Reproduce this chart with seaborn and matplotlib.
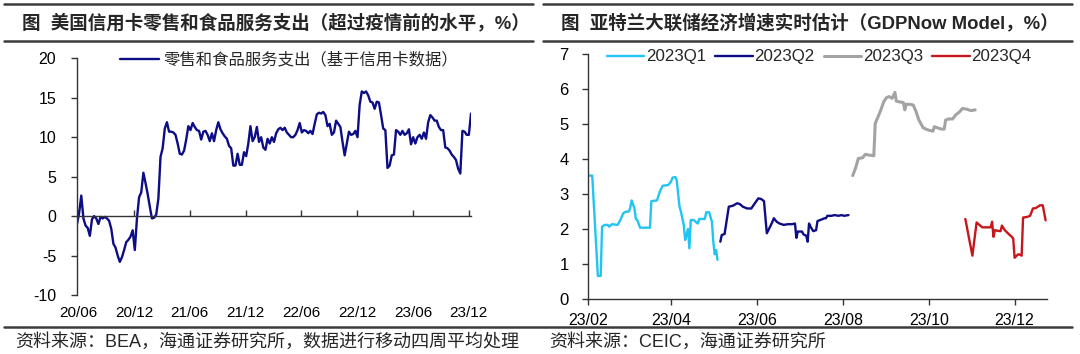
import pandas as pd
import matplotlib
matplotlib.use("Agg")
import matplotlib.pyplot as plt
import matplotlib.dates as mdates
from matplotlib.lines import Line2D
import seaborn as sns

# weekly retail & food services card spending vs pre-pandemic level (%)
retail_start = "2020-05-29"
retail = [
    -1.0, 0.4, 2.6, -0.3, -1.2, -1.5, -2.5, -0.4, 0.0, -0.3,
    -1.0, -0.1, -0.3, -0.1, -0.3, -0.6, -1.6, -3.5, -4.0, -5.0,
    -5.8, -5.2, -4.3, -3.3, -3.0, -2.6, -1.8, -4.3, -0.3, 2.4,
    3.0, 5.5, 4.2, 2.8, 1.2, -0.3, -0.2, 0.2, 2.2, 7.5,
    8.6, 11.1, 11.9, 10.7, 10.7, 10.6, 10.3, 9.2, 7.9, 7.8,
    8.3, 9.7, 11.4, 10.9, 11.8, 11.3, 10.9, 10.8, 9.7, 10.7,
    10.8, 10.3, 9.5, 10.5, 9.5, 10.9, 11.9, 11.0, 10.5, 10.1,
    9.8, 8.9, 8.6, 6.4, 6.4, 7.9, 6.5, 6.5, 8.1, 7.6,
    9.2, 11.4, 9.5, 10.0, 11.3, 9.4, 10.0, 8.7, 8.4, 9.8,
    9.2, 10.0, 9.4, 10.5, 11.0, 11.2, 10.9, 11.2, 10.6, 10.3,
    10.0, 10.0, 10.3, 10.9, 11.8, 10.6, 10.9, 10.8, 10.5, 10.8,
    10.4, 11.7, 12.9, 13.1, 13.0, 13.2, 12.8, 11.4, 11.7, 10.3,
    10.6, 12.1, 11.7, 11.3, 9.4, 7.7, 9.2, 10.7, 10.3, 10.4,
    10.8, 10.0, 14.1, 15.8, 15.6, 15.8, 15.3, 14.5, 14.4, 13.6,
    14.5, 14.4, 12.8, 11.1, 10.9, 6.1, 6.4, 7.7, 7.8, 10.9,
    10.7, 10.3, 10.8, 10.3, 10.5, 11.0, 9.1, 10.0, 9.2, 10.0,
    10.3, 9.8, 10.6, 9.8, 11.9, 12.8, 12.5, 12.1, 12.1, 11.3,
    10.9, 10.9, 8.7, 8.6, 8.3, 7.8, 7.5, 7.1, 6.0, 5.4,
    10.8, 10.7, 10.3, 10.3, 13.0,
]

# GDPNow nowcasts by quarter
q1_dates = ["02-01", "02-04", "02-08", "02-10", "02-11", "02-13", "02-15", "02-16", "02-18", "02-22",
            "02-24", "02-26", "02-28", "03-02", "03-03", "03-04", "03-06", "03-07", "03-08", "03-10",
            "03-17", "03-18", "03-22", "03-24", "03-26", "03-30", "04-01", "04-02", "04-04", "04-05",
            "04-07", "04-08", "04-10", "04-11", "04-12", "04-13", "04-14", "04-15", "04-17", "04-19",
            "04-20", "04-21", "04-25", "04-26", "04-28", "04-30", "05-01", "05-02", "05-03", "05-04"]
q1_vals = [3.53, 3.53, 0.66, 0.66, 2.07, 2.12, 2.12, 2.07, 2.14, 2.12,
           2.26, 2.45, 2.5, 2.5, 2.61, 2.82, 2.59, 2.29, 2.26, 2.04,
           2.04, 2.8, 2.82, 3.07, 3.24, 3.26, 3.36, 3.47, 3.49, 3.4,
           2.64, 2.5, 2.12, 1.69, 1.83, 2.0, 1.45, 2.26, 2.26, 2.19,
           2.16, 2.29, 2.29, 2.48, 2.48, 2.21, 1.64, 1.28, 1.4, 1.12]

q2_dates = ["05-06", "05-07", "05-09", "05-12", "05-15", "05-18", "05-20", "05-22", "05-25", "05-28",
            "05-30", "06-02", "06-04", "06-06", "06-08", "06-10", "06-12", "06-13", "06-15", "06-17",
            "06-20", "06-23", "06-26", "06-28", "06-29", "06-30", "07-03", "07-04", "07-06", "07-07",
            "07-08", "07-09", "07-11", "07-13", "07-14", "07-16", "07-19", "07-20", "07-21", "07-24",
            "07-26", "07-29", "07-31", "08-02", "08-05"]
q2_vals = [1.64, 1.83, 1.86, 2.64, 2.67, 2.74, 2.71, 2.64, 2.59, 2.59,
           2.71, 2.88, 2.86, 2.80, 1.88, 2.04, 2.21, 2.31, 2.21, 2.16,
           2.12, 2.14, 2.14, 2.16, 1.75, 1.93, 1.93, 1.85, 1.81, 1.64,
           2.16, 2.07, 1.94, 1.97, 2.23, 2.26, 2.31, 2.31, 2.38, 2.38,
           2.40, 2.38, 2.40, 2.38, 2.40]

q3_dates = ["08-08", "08-10", "08-12", "08-15", "08-17", "08-19", "08-23", "08-24", "08-26", "08-28",
            "08-30", "09-01", "09-03", "09-05", "09-07", "09-08", "09-10", "09-13", "09-14", "09-15",
            "09-17", "09-20", "09-22", "09-24", "09-27", "09-29", "10-01", "10-04", "10-05", "10-07",
            "10-10", "10-12", "10-13", "10-15", "10-18", "10-20", "10-23", "10-25", "10-28", "10-31",
            "11-03"]
q3_vals = [3.53, 3.74, 4.02, 4.04, 4.14, 4.12, 4.10, 5.02, 5.21, 5.41,
           5.64, 5.76, 5.79, 5.74, 5.91, 5.66, 5.64, 5.62, 5.41, 5.57,
           5.57, 5.55, 5.36, 5.12, 4.90, 4.86, 4.83, 4.80, 4.93, 4.90,
           4.86, 4.86, 5.12, 5.15, 5.15, 5.26, 5.36, 5.45, 5.43, 5.39,
           5.41]

q4_dates = ["10-27", "11-01", "11-04", "11-06", "11-08", "11-14", "11-15", "11-16", "11-17", "11-19",
            "11-21", "11-22", "11-24", "11-27", "11-29", "11-30", "12-01", "12-03", "12-04", "12-06",
            "12-07", "12-10", "12-12", "12-14", "12-16", "12-19", "12-21", "12-23"]
q4_vals = [2.29, 1.24, 2.19, 2.12, 2.05, 2.05, 2.21, 1.78, 1.97, 1.95,
           1.94, 2.10, 1.97, 1.85, 1.78, 1.73, 1.18, 1.26, 1.28, 1.24,
           2.33, 2.35, 2.38, 2.59, 2.60, 2.68, 2.68, 2.25]

quarters = ["2023Q1", "2023Q2", "2023Q3", "2023Q4"]
q_colors = ["#22c4f2", "#0d0d85", "#a3a3a3", "#c8161d"]
q_widths = [1.7, 1.7, 2.2, 1.7]

sns.set_style("ticks")
plt.rcParams["font.family"] = ["Liberation Sans", "Noto Sans CJK SC", "DejaVu Sans"]
plt.rcParams["axes.unicode_minus"] = False

W, H = 1080, 354
fig = plt.figure(figsize=(W / 100, H / 100), dpi=100)

# ---------- left panel ----------
ax1 = fig.add_axes([77 / W, 1 - 295 / H, (471 - 77) / W, (295 - 58.3) / H])
df1 = pd.DataFrame({
    "date": pd.date_range(retail_start, periods=len(retail), freq="7D"),
    "value": retail,
})
sns.lineplot(data=df1, x="date", y="value", ax=ax1, color="#0d0d85", lw=1.7,
             label="零售和食品服务支出（基于信用卡数据）")
ax1.set_xlim(df1["date"].iloc[0], df1["date"].iloc[-1])
ax1.set_ylim(-10, 20)
ax1.set_yticks(range(-10, 21, 5))
ax1.xaxis.set_major_locator(mdates.MonthLocator(bymonth=[6, 12]))
ax1.xaxis.set_major_formatter(mdates.DateFormatter("%y/%m"))
ax1.spines["bottom"].set_position(("data", 0))
ax1.tick_params(axis="x", direction="in", length=4, pad=65, labelsize=11)
ax1.tick_params(axis="y", direction="out", length=4, pad=11, labelsize=11.5)
ax1.legend(loc="center left", bbox_to_anchor=(120 / W, 1 - 60 / H),
           bbox_transform=fig.transFigure, frameon=False, handlelength=2.4,
           handletextpad=0.25, borderpad=0, borderaxespad=0,
           prop={"family": ["Noto Sans CJK SC"], "size": 11.8})

# ---------- right panel ----------
ax2 = fig.add_axes([588 / W, 1 - 299 / H, (1047 - 588) / W, (299 - 54.3) / H])
series = [(q1_dates, q1_vals), (q2_dates, q2_vals), (q3_dates, q3_vals), (q4_dates, q4_vals)]
for name, (d, v), c, lw in zip(quarters, series, q_colors, q_widths):
    dfq = pd.DataFrame({"date": pd.to_datetime(["2023-" + s for s in d]), "value": v})
    sns.lineplot(data=dfq, x="date", y="value", ax=ax2, color=c, lw=lw, label=name)
ax2.set_xlim(pd.Timestamp("2023-02-01"), pd.Timestamp("2023-12-24"))
ax2.set_ylim(0, 7)
ax2.set_yticks(range(0, 8))
ax2.xaxis.set_major_locator(mdates.MonthLocator(bymonth=[2, 4, 6, 8, 10, 12]))
ax2.xaxis.set_major_formatter(mdates.DateFormatter("%y/%m"))
ax2.tick_params(axis="x", direction="out", length=4, pad=6, labelsize=11.5)
ax2.tick_params(axis="y", direction="out", length=4, pad=10, labelsize=12)
ax2.legend(loc="center left", bbox_to_anchor=(607 / W, 1 - 57 / H),
           bbox_transform=fig.transFigure, frameon=False, ncol=4,
           handlelength=2.2, handletextpad=0.1, columnspacing=0.55,
           borderpad=0, borderaxespad=0, fontsize=12.2)

for ax in (ax1, ax2):
    ax.set_xlabel("")
    ax.set_ylabel("")
    sns.despine(ax=ax)
    for s in ("left", "bottom"):
        ax.spines[s].set_color("#333333")
        ax.spines[s].set_linewidth(1.0)
    ax.tick_params(colors="#333333", labelcolor="black", width=1.0)
    ax.set_facecolor("none")

# ---------- titles, rules, sources ----------
title_font = ["Liberation Sans", "Noto Sans CJK SC"]
fig.text(22 / W, 1 - 23 / H, "图  美国信用卡零售和食品服务支出（超过疫情前的水平，%）",
         fontsize=13.3, fontweight="bold", va="center", family=title_font)
fig.text(561 / W, 1 - 23 / H, "图  亚特兰大联储经济增速实时估计（GDPNow Model，%）",
         fontsize=13.3, fontweight="bold", va="center", family=title_font)

rule = dict(transform=fig.transFigure, color="#3c3c3c", lw=1.8)
for x0, x1 in ((4 / W, 533 / W), (543 / W, 1072 / W)):
    fig.add_artist(Line2D([x0, x1], [1 - 3.5 / H] * 2, **rule))
    fig.add_artist(Line2D([x0, x1], [1 - 40.5 / H] * 2, **rule))
fig.add_artist(Line2D([4 / W, 1072 / W], [1 - 326.7 / H] * 2, **rule))

fig.text(15 / W, 1 - 342 / H, "资料来源：BEA，海通证券研究所，数据进行移动四周平均处理",
         fontsize=13, va="center", family=title_font)
fig.text(549 / W, 1 - 342 / H, "资料来源：CEIC，海通证券研究所",
         fontsize=13, va="center", family=title_font)

fig.savefig("out.png", dpi=100)
